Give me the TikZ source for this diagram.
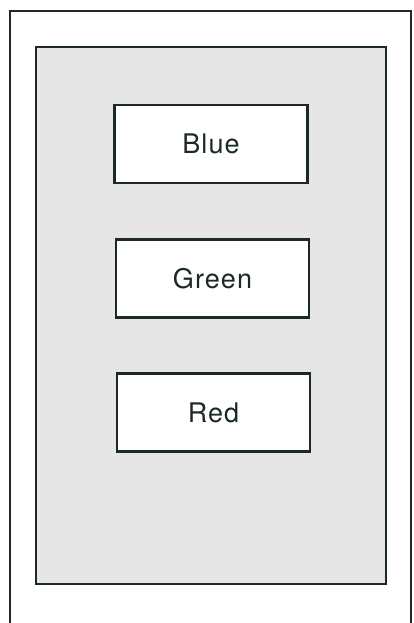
\documentclass[tikz,border=0pt]{standalone}
\usepackage{fontspec}
\setmainfont[LetterSpace=4]{TeX Gyre Heros}
\definecolor{ink}{HTML}{1C2A24}
\definecolor{panel}{HTML}{E6E6E6}
\begin{document}
\begin{tikzpicture}[x=1pt,y=-1pt,
  colorbox/.style={draw=ink, line width=2.4pt, fill=white, minimum width=193pt, minimum height=78pt, inner sep=0pt, font=\fontsize{27}{31}\selectfont, text=ink},
  frame/.style={draw=ink, line width=2pt}]
\useasboundingbox (0,0) rectangle (413,623);
\fill[white] (0,0) rectangle (413,623);
% outer frame (open at bottom)
\draw[frame] (10,623) -- (10,11) -- (411,11) -- (411,623);
% inner panel
\draw[draw=ink, line width=2.6pt, fill=panel] (36,47) rectangle (386,584);
\node[colorbox] (blue) at (211,144) {Blue};
\node[colorbox] (green) at (212.5,278.5) {Green};
\node[colorbox] (red) at (213.5,412.5) {Red};
\end{tikzpicture}
\end{document}
